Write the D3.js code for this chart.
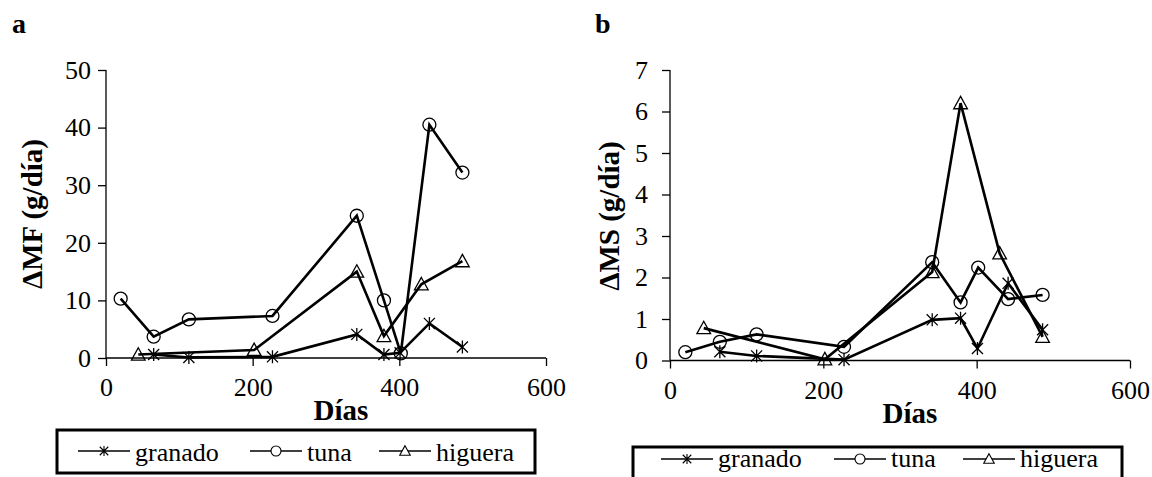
<!DOCTYPE html>
<html>
<head>
<meta charset="utf-8">
<script src="https://cdn.jsdelivr.net/npm/d3@7"></script>
<style>
  html, body { margin: 0; padding: 0; background: #fff; }
  svg { display: block; }
</style>
</head>
<body>
<svg id="chart" width="1152" height="477"></svg>
<script>
const FONT = "Liberation Serif";

// Days of sampling per species
const daysGranado = [65, 113, 227, 342, 379, 401, 441, 486];
const daysTuna    = [20, 65, 113, 227, 342, 379, 402, 441, 486];
const daysHiguera = [44, 202, 342, 379, 430, 486];

// ΔMF (g/día) — fresh mass gain
const mfGranado = [0.6, 0.1, 0.2, 4.1, 0.6, 0.9, 6.0, 1.9];
const mfTuna    = [10.3, 3.7, 6.7, 7.3, 24.7, 10.0, 0.8, 40.5, 32.2];
const mfHiguera = [0.6, 1.4, 15.0, 3.8, 12.8, 16.8];

// ΔMS (g/día) — dry mass gain
const msGranado = [0.21, 0.11, 0.02, 0.98, 1.02, 0.29, 1.86, 0.74];
const msTuna    = [0.20, 0.45, 0.63, 0.33, 2.37, 1.40, 2.24, 1.48, 1.58];
const msHiguera = [0.78, 0.03, 2.13, 6.20, 2.58, 0.57];

const xTicks = [0, 200, 400, 600];
const mfTicks = [0, 10, 20, 30, 40, 50];
const msTicks = [0, 1, 2, 3, 4, 5, 6, 7];
const seriesNames = ["granado", "tuna", "higuera"];

const svg = d3.select("#chart");

// Marker path generators (unfilled outlines)
function markerPath(kind, s) {
  if (kind === "granado") {
    const h = s, d = s * 0.85;
    return `M0,${-h}L0,${h}M${-d},${-d}L${d},${d}M${-d},${d}L${d},${-d}`;
  }
  if (kind === "tuna") {
    return `M${s},0A${s},${s} 0 1,1 ${-s},0A${s},${s} 0 1,1 ${s},0Z`;
  }
  const w = s * 1.05, top = -s * 1.05, bot = s * 0.85;
  return `M0,${top}L${w},${bot}L${-w},${bot}Z`;
}

function drawPanel(cfg) {
  const g = svg.append("g");
  const x = d3.scaleLinear().domain([0, 600]).range(cfg.xRange);
  const y = d3.scaleLinear().domain(cfg.yDomain).range(cfg.yRange);

  // y axis
  const yAxis = g.append("g")
    .attr("transform", `translate(${cfg.xRange[0]},0)`)
    .call(d3.axisLeft(y).tickValues(cfg.yTicks).tickSize(8).tickPadding(cfg.yPad).tickFormat(d3.format("d")));
  // x axis
  const xAxis = g.append("g")
    .attr("transform", `translate(0,${cfg.yRange[0]})`)
    .call(d3.axisBottom(x).tickValues(xTicks).tickSize(8).tickPadding(12).tickFormat(d3.format("d")));

  [yAxis, xAxis].forEach(a => {
    a.attr("font-family", FONT).attr("font-size", 26);
    a.select(".domain").attr("stroke", "#000").attr("stroke-width", 1.3);
    a.selectAll(".tick line").attr("stroke", "#000").attr("stroke-width", 1.3);
    a.selectAll(".tick text").attr("font-family", FONT).attr("font-size", 26).attr("fill", "#000");
  });
  yAxis.select(".domain").attr("d", `M0,${cfg.yRange[0]}V${cfg.yRange[1]}`);
  xAxis.select(".domain").attr("d", `M${cfg.xRange[0]},0H${cfg.xRange[1]}`);

  // data lines and markers
  const line = d3.line().x(d => x(d[0])).y(d => y(d[1]));
  cfg.series.forEach(s => {
    const pts = s.days.map((d, i) => [d, s.values[i]]);
    g.append("path").datum(pts)
      .attr("d", line).attr("fill", "none")
      .attr("stroke", "#000").attr("stroke-width", 2.6).attr("stroke-linejoin", "miter");
    g.selectAll(null).data(pts).enter().append("path")
      .attr("transform", d => `translate(${x(d[0])},${y(d[1])})`)
      .attr("d", markerPath(s.name, 6.5))
      .attr("fill", "none").attr("stroke", "#000").attr("stroke-width", 1.3);
  });

  // titles
  g.append("text").attr("x", cfg.letterX).attr("y", 33)
    .attr("font-family", FONT).attr("font-size", 28).attr("font-weight", "bold").text(cfg.letter);
  g.append("text").attr("x", (cfg.xRange[0] + cfg.xRange[1]) / 2 + cfg.xTitleDx).attr("y", cfg.xTitleY)
    .attr("text-anchor", "middle").attr("font-family", FONT).attr("font-size", 29).attr("font-weight", "bold").text("Días");
  g.append("text")
    .attr("transform", `translate(${cfg.yTitleX},${cfg.yTitleY}) rotate(-90)`)
    .attr("text-anchor", "middle").attr("font-family", FONT).attr("font-size", 29).attr("font-weight", "bold").text(cfg.yTitle);

  // legend
  const L = cfg.legend;
  g.append("rect").attr("x", L.x).attr("y", L.y).attr("width", L.w).attr("height", L.h)
    .attr("fill", "#fff").attr("stroke", "#000").attr("stroke-width", 3);
  seriesNames.forEach((name, i) => {
    const lx = L.items[i];
    g.append("line").attr("x1", lx).attr("x2", lx + 52).attr("y1", L.lineY).attr("y2", L.lineY)
      .attr("stroke", "#000").attr("stroke-width", 1.6);
    g.append("path").attr("transform", `translate(${lx + 26},${L.lineY})`)
      .attr("d", markerPath(name, 5)).attr("fill", "#fff").attr("stroke", "#000").attr("stroke-width", 1.1);
    g.append("text").attr("x", lx + 57).attr("y", L.textY)
      .attr("font-family", FONT).attr("font-size", 26).text(name);
  });
}

drawPanel({
  letter: "a", letterX: 12,
  xRange: [106, 546], yRange: [358, 70], yDomain: [0, 50], yTicks: mfTicks, yPad: 7,
  yTitle: "ΔMF (g/día)", yTitleX: 42, yTitleY: 214,
  xTitleDx: 15, xTitleY: 420,
  series: [
    { name: "granado", days: daysGranado, values: mfGranado },
    { name: "tuna", days: daysTuna, values: mfTuna },
    { name: "higuera", days: daysHiguera, values: mfHiguera }
  ],
  legend: { x: 57, y: 430, w: 478, h: 43, lineY: 451, textY: 461, items: [78, 250, 379] }
});

drawPanel({
  letter: "b", letterX: 595,
  xRange: [670, 1130], yRange: [360.5, 70], yDomain: [0, 7], yTicks: msTicks, yPad: 14,
  yTitle: "ΔMS (g/día)", yTitleX: 619, yTitleY: 216,
  xTitleDx: 10, xTitleY: 423,
  series: [
    { name: "granado", days: daysGranado, values: msGranado },
    { name: "tuna", days: daysTuna, values: msTuna },
    { name: "higuera", days: daysHiguera, values: msHiguera }
  ],
  legend: { x: 633, y: 447, w: 489, h: 50, lineY: 459, textY: 467, items: [661, 834, 963] }
});
</script>
</body>
</html>
